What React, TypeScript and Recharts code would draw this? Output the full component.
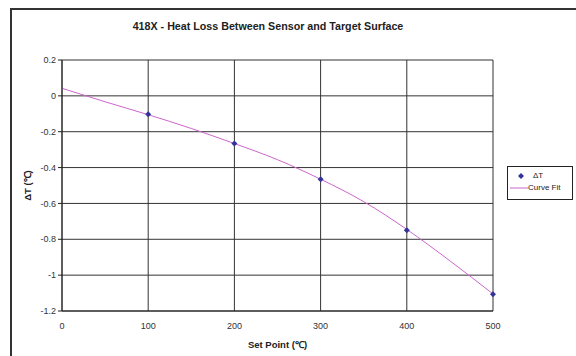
import React from "react";
import {
  ComposedChart,
  Line,
  Scatter,
  XAxis,
  YAxis,
  CartesianGrid,
  Label,
} from "recharts";

const setPoints = [100, 200, 300, 400, 500];
const deltaT = [-0.102, -0.266, -0.465, -0.749, -1.106];

const fitX = [0, 50, 100, 150, 200, 250, 300, 350, 400, 450, 500];
const fitY = [0.042, -0.033, -0.105, -0.182, -0.266, -0.356, -0.465, -0.59, -0.745, -0.92, -1.105];

const xTicks = [0, 100, 200, 300, 400, 500];
const yTicks = [0.2, 0, -0.2, -0.4, -0.6, -0.8, -1, -1.2];

const pointData = setPoints.map((x, i) => ({ x, dt: deltaT[i] }));
const fitData = fitX.map((x, i) => ({ x, fit: fitY[i] }));

const FONT = "'Liberation Sans', Arial, sans-serif";
const POINT_COLOR = "#333399";
const FIT_COLOR = "#cc66cc";

const Diamond = (props: any) => {
  const { cx, cy } = props;
  if (cx == null || cy == null) return null;
  const r = 3;
  return (
    <path
      d={`M${cx},${cy - r}L${cx + r},${cy}L${cx},${cy + r}L${cx - r},${cy}Z`}
      fill={POINT_COLOR}
    />
  );
};

export default function App() {
  return (
    <div
      style={{
        position: "absolute",
        left: 0,
        top: 0,
        width: 576,
        height: 356,
        overflow: "hidden",
        background: "#fff",
        fontFamily: FONT,
      }}
    >
      {/* outer chart-area frame */}
      <div
        style={{
          position: "absolute",
          left: 10,
          top: 8,
          width: 700,
          height: 500,
          border: "2px solid #333",
        }}
      />
      <div
        style={{
          position: "absolute",
          left: 0,
          top: 20,
          width: 536,
          textAlign: "center",
          fontSize: 10.7,
          fontWeight: "bold",
          color: "#222",
        }}
      >
        418X - Heat Loss Between Sensor and Target Surface
      </div>

      <div style={{ position: "absolute", left: 0, top: 0 }}>
        <ComposedChart
          width={576}
          height={356}
          margin={{ top: 60, right: 83, bottom: 0, left: 0 }}
        >
          <CartesianGrid stroke="#333" strokeWidth={1} />
          <XAxis
            dataKey="x"
            type="number"
            domain={[0, 500]}
            ticks={xTicks}
            tickLine={false}
            axisLine={{ stroke: "#222" }}
            height={45}
            tick={{ fontSize: 9, fill: "#333", fontFamily: FONT }}
            tickMargin={6}
            allowDuplicatedCategory={false}
          >
            <Label
              value="Set Point (℃)"
              position="insideBottom"
              offset={8}
              style={{ fontSize: 9.5, fontWeight: "bold", fill: "#222", fontFamily: FONT }}
            />
          </XAxis>
          <YAxis
            type="number"
            domain={[-1.2, 0.2]}
            ticks={yTicks}
            width={62}
            tickSize={4}
            tickLine={{ stroke: "#222" }}
            axisLine={{ stroke: "#222" }}
            tick={{ fontSize: 9, fill: "#333", fontFamily: FONT }}
            tickFormatter={(v: number) => String(Math.round(v * 10) / 10)}
          >
            <Label
              value="ΔT (℃)"
              angle={-90}
              position="insideLeft"
              offset={28}
              style={{ fontSize: 9.5, fontWeight: "bold", fill: "#222", fontFamily: FONT, textAnchor: "middle" }}
            />
          </YAxis>
          <Line
            data={fitData}
            dataKey="fit"
            type="monotone"
            stroke={FIT_COLOR}
            strokeWidth={1}
            dot={false}
            activeDot={false}
            isAnimationActive={false}
          />
          <Scatter
            data={pointData}
            dataKey="dt"
            fill={POINT_COLOR}
            shape={Diamond}
            isAnimationActive={false}
          />
        </ComposedChart>
      </div>

      {/* legend */}
      <div
        style={{
          position: "absolute",
          left: 507,
          top: 166,
          width: 66,
          height: 34,
          boxSizing: "border-box",
          border: "1px solid #222",
          background: "#fff",
          fontSize: 8,
          color: "#222",
        }}
      >
        <div style={{ position: "absolute", left: 9, top: 4, display: "flex", alignItems: "center" }}>
          <svg width={8} height={8} style={{ marginRight: 8 }}>
            <path d="M4,1L7,4L4,7L1,4Z" fill={POINT_COLOR} />
          </svg>
          <span>ΔT</span>
        </div>
        <div style={{ position: "absolute", left: 2, top: 16, display: "flex", alignItems: "center" }}>
          <svg width={18} height={8}>
            <line x1={0} y1={4} x2={18} y2={4} stroke={FIT_COLOR} strokeWidth={1} />
          </svg>
          <span>Curve Fit</span>
        </div>
      </div>
    </div>
  );
}
